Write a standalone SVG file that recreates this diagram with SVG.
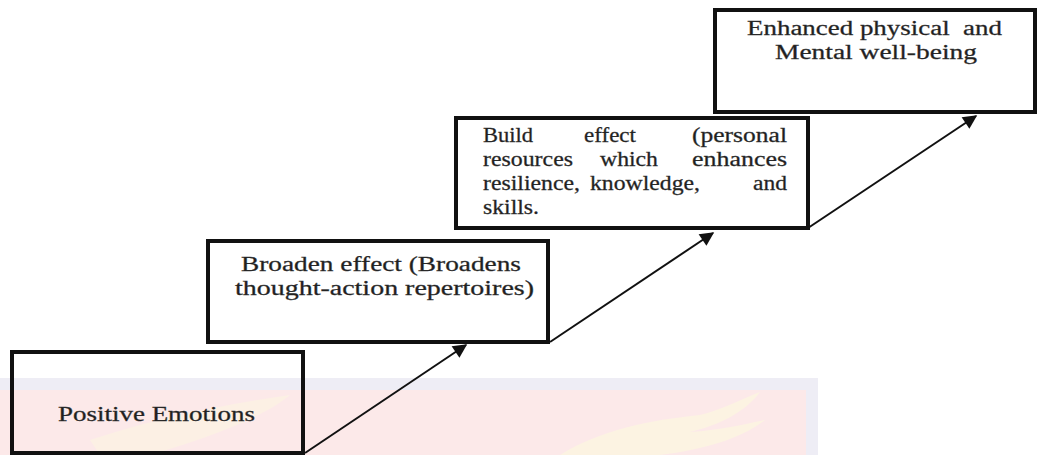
<svg xmlns="http://www.w3.org/2000/svg" width="1038" height="455" viewBox="0 0 1038 455">
<defs>
<style>
.box{fill:#fff;stroke:#111;stroke-width:4}
.txt{font-family:"Liberation Serif","Times New Roman",serif;font-size:20px;fill:#1f1f1f;stroke:#333;stroke-width:0.3}
.conn{stroke:#111;stroke-width:2;fill:none}
</style>
<marker id="ah" viewBox="0 0 10 10" refX="9" refY="5" markerWidth="8" markerHeight="7" orient="auto" markerUnits="strokeWidth">
<path d="M0,0 L10,5 L0,10 z" fill="#111"/>
</marker>
</defs>
<rect width="1038" height="455" fill="#fff"/>
<g id="watermark">
<rect x="0" y="378" width="818" height="77" fill="#eeedf5"/>
<rect x="0" y="390" width="806" height="65" fill="#fce9e9"/>
<path d="M560,455 C600,430 650,420 700,415 C720,410 740,400 760,392 C745,412 720,425 690,432 C720,430 740,425 765,420 C740,440 700,450 660,455 Z" fill="#fcf3e2"/>
<path d="M90,440 C150,420 220,405 290,395 C260,420 200,440 150,455 L100,455 Z" fill="#fcf0e4"/>
</g>
<g id="node-positive">
<rect x="12" y="352" width="291" height="101" fill="none" stroke="#111" stroke-width="4"/>
<text class="txt" x="58" y="421" textLength="197" lengthAdjust="spacingAndGlyphs">Positive Emotions</text>
</g>
<g id="node-broaden">
<rect class="box" x="208" y="241" width="340" height="101"/>
<text class="txt" x="241" y="271" textLength="280" lengthAdjust="spacingAndGlyphs">Broaden effect (Broadens</text>
<text class="txt" x="235" y="295" textLength="299" lengthAdjust="spacingAndGlyphs">thought-action repertoires)</text>
</g>
<g id="node-build">
<rect class="box" x="456" y="118" width="352" height="110"/>
<text class="txt" x="483" y="142" textLength="50" lengthAdjust="spacingAndGlyphs">Build</text>
<text class="txt" x="584" y="142" textLength="52" lengthAdjust="spacingAndGlyphs">effect</text>
<text class="txt" x="692" y="142" textLength="95" lengthAdjust="spacingAndGlyphs">(personal</text>
<text class="txt" x="483" y="166" textLength="90" lengthAdjust="spacingAndGlyphs">resources</text>
<text class="txt" x="600" y="166" textLength="58" lengthAdjust="spacingAndGlyphs">which</text>
<text class="txt" x="692" y="166" textLength="95" lengthAdjust="spacingAndGlyphs">enhances</text>
<text class="txt" x="483" y="190" textLength="97" lengthAdjust="spacingAndGlyphs">resilience,</text>
<text class="txt" x="590" y="190" textLength="110" lengthAdjust="spacingAndGlyphs">knowledge,</text>
<text class="txt" x="753" y="190" textLength="34" lengthAdjust="spacingAndGlyphs">and</text>
<text class="txt" x="483" y="214" textLength="56" lengthAdjust="spacingAndGlyphs">skills.</text>
</g>
<g id="node-enhanced">
<rect class="box" x="715" y="10" width="320" height="102"/>
<text class="txt" x="747" y="35" textLength="255" lengthAdjust="spacingAndGlyphs">Enhanced physical&#160; and</text>
<text class="txt" x="775" y="59" textLength="202" lengthAdjust="spacingAndGlyphs">Mental well-being</text>
</g>
<g id="connectors">
<line class="conn" x1="305" y1="453" x2="466" y2="345" marker-end="url(#ah)"/>
<line class="conn" x1="550" y1="342" x2="713" y2="233" marker-end="url(#ah)"/>
<line class="conn" x1="808" y1="228" x2="976" y2="116" marker-end="url(#ah)"/>
</g>
</svg>
